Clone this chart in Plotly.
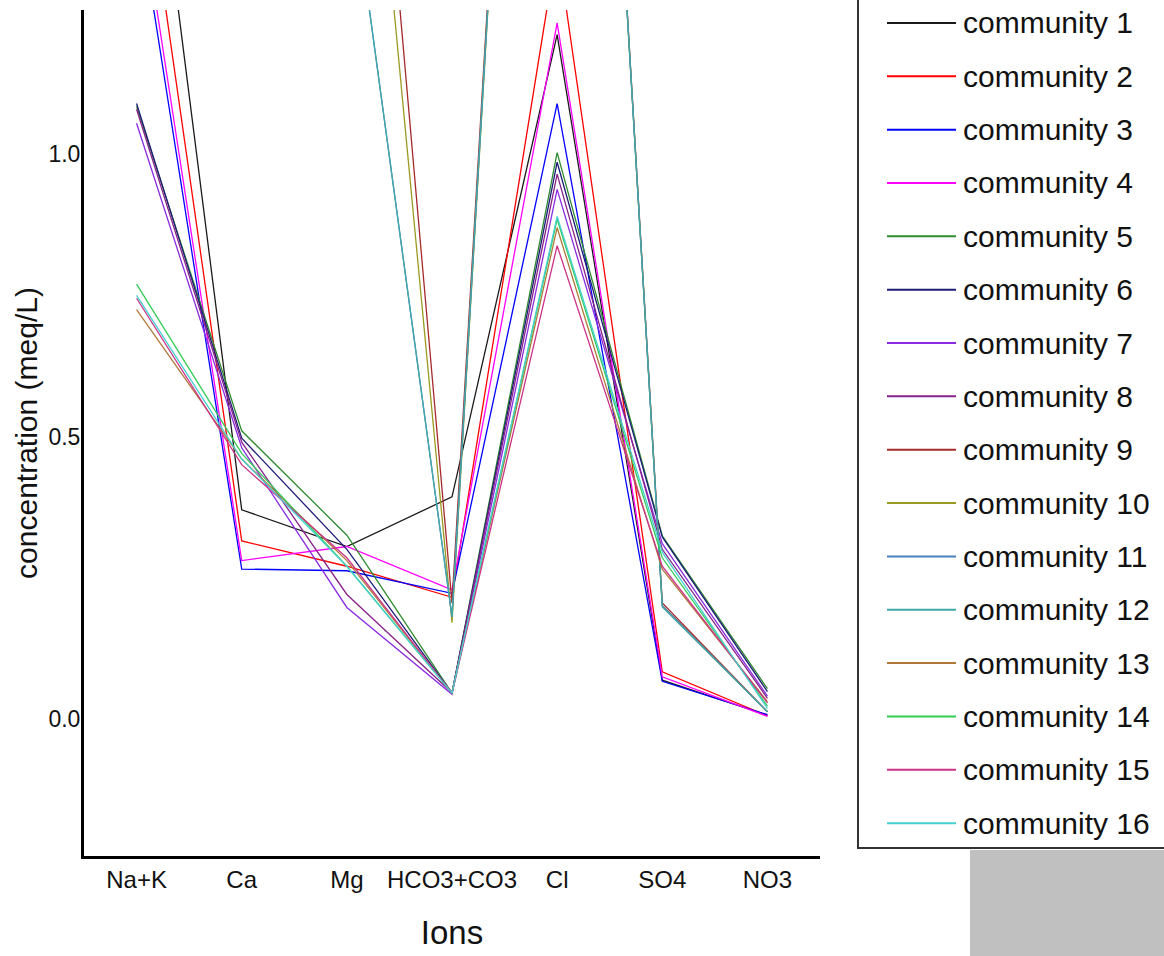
import plotly.graph_objects as go

ions = ["Na+K", "Ca", "Mg", "HCO3+CO3", "Cl", "SO4", "NO3"]
names = [f"community {i}" for i in range(1, 17)]

c1 = [1.84, 0.370, 0.305, 0.393, 1.212, 0.068, 0.006]
c2 = [1.62, 0.315, 0.270, 0.215, 1.370, 0.083, 0.005]
c3 = [1.45, 0.265, 0.262, 0.222, 1.090, 0.066, 0.007]
c4 = [1.49, 0.280, 0.305, 0.228, 1.233, 0.074, 0.004]
c5 = [1.085, 0.510, 0.325, 0.045, 1.003, 0.324, 0.053]
c6 = [1.090, 0.497, 0.300, 0.045, 0.986, 0.322, 0.048]
c7 = [1.055, 0.480, 0.197, 0.043, 0.938, 0.310, 0.040]
c8 = [1.080, 0.490, 0.220, 0.046, 0.965, 0.300, 0.036]
c9 = [3.00, 2.60, 2.33, 0.205, 3.35, 0.205, 0.012]
c10 = [3.00, 2.60, 2.14, 0.170, 3.35, 0.200, 0.012]
c11 = [2.80, 2.30, 1.55, 0.180, 3.35, 0.200, 0.012]
c12 = [2.80, 2.30, 1.55, 0.180, 3.35, 0.198, 0.012]
c13 = [0.725, 0.460, 0.280, 0.045, 0.870, 0.265, 0.030]
c14 = [0.770, 0.470, 0.270, 0.045, 0.885, 0.285, 0.022]
c15 = [0.745, 0.450, 0.285, 0.045, 0.838, 0.270, 0.028]
c16 = [0.750, 0.460, 0.270, 0.045, 0.890, 0.295, 0.018]
series = [c1, c2, c3, c4, c5, c6, c7, c8, c9, c10, c11, c12, c13, c14, c15, c16]

colors = ["#1a1a1a", "#ff0000", "#0000ff", "#ff00ff", "#2e8b2e", "#1c1c78",
          "#8a2be2", "#882288", "#a52a2a", "#9a9a20", "#4a7fbf", "#40a8a8",
          "#b0783a", "#33cc55", "#cc3388", "#44d0d0"]

fig = go.Figure()
for nm, vals, col in zip(names, series, colors):
    fig.add_trace(go.Scatter(x=ions, y=vals, mode="lines", name=nm,
                             line=dict(color=col, width=1.3), showlegend=False))

L, R, T, B = 84, 820, 10, 860
W, H = 1164, 956

def px(x):
    return (x - L) / (R - L)

def py(y):
    return (B - y) / (B - T)

FONT = "Liberation Sans, Arial, sans-serif"

shapes = []
annotations = []
# legend box (cut off at top and right)
shapes.append(dict(type="rect", xref="paper", yref="paper",
                   x0=px(858), x1=px(1175), y0=py(852), y1=py(-10),
                   line=dict(color="#333333", width=2), fillcolor="white", layer="below"))
# grey block below legend
shapes.append(dict(type="rect", xref="paper", yref="paper",
                   x0=px(970), x1=px(1170), y0=py(966), y1=py(854),
                   line=dict(width=0), fillcolor="#c0c0c0", layer="below"))
row0, step = 23, 53.6
for i, (nm, col) in enumerate(zip(names, colors)):
    yy = row0 + i * step
    shapes.append(dict(type="line", xref="paper", yref="paper",
                       x0=px(887), x1=px(956), y0=py(yy), y1=py(yy),
                       line=dict(color=col, width=2)))
    annotations.append(dict(xref="paper", yref="paper", x=px(962), y=py(yy),
                            xanchor="left", yanchor="middle", showarrow=False,
                            text=nm, borderpad=0,
                            font=dict(family=FONT, size=30, color="#111111")))

fig.update_layout(
    width=W, height=H,
    margin=dict(l=L, r=W - R, t=T, b=H - B),
    paper_bgcolor="white", plot_bgcolor="white",
    shapes=shapes, annotations=annotations,
    showlegend=False,
    xaxis=dict(type="category", categoryorder="array", categoryarray=ions,
               range=[-0.5, 6.5], showgrid=False, zeroline=False,
               showline=True, linecolor="black", linewidth=3, ticks="",
               tickfont=dict(family=FONT, size=24, color="#111111"),
               title=dict(text="Ions", standoff=30,
                          font=dict(family=FONT, size=33, color="#111111"))),
    yaxis=dict(range=[-0.2435, 1.2558], tickvals=[0.0, 0.5, 1.0],
               ticktext=["0.0", "0.5", "1.0"], showgrid=False, zeroline=False,
               showline=True, linecolor="black", linewidth=3, ticks="",
               ticklabelstandoff=-4,
               tickfont=dict(family=FONT, size=23, color="#111111"),
               title=dict(text="concentration (meq/L)", standoff=2,
                          font=dict(family=FONT, size=30, color="#111111"))),
)

fig.write_html("out.html")
